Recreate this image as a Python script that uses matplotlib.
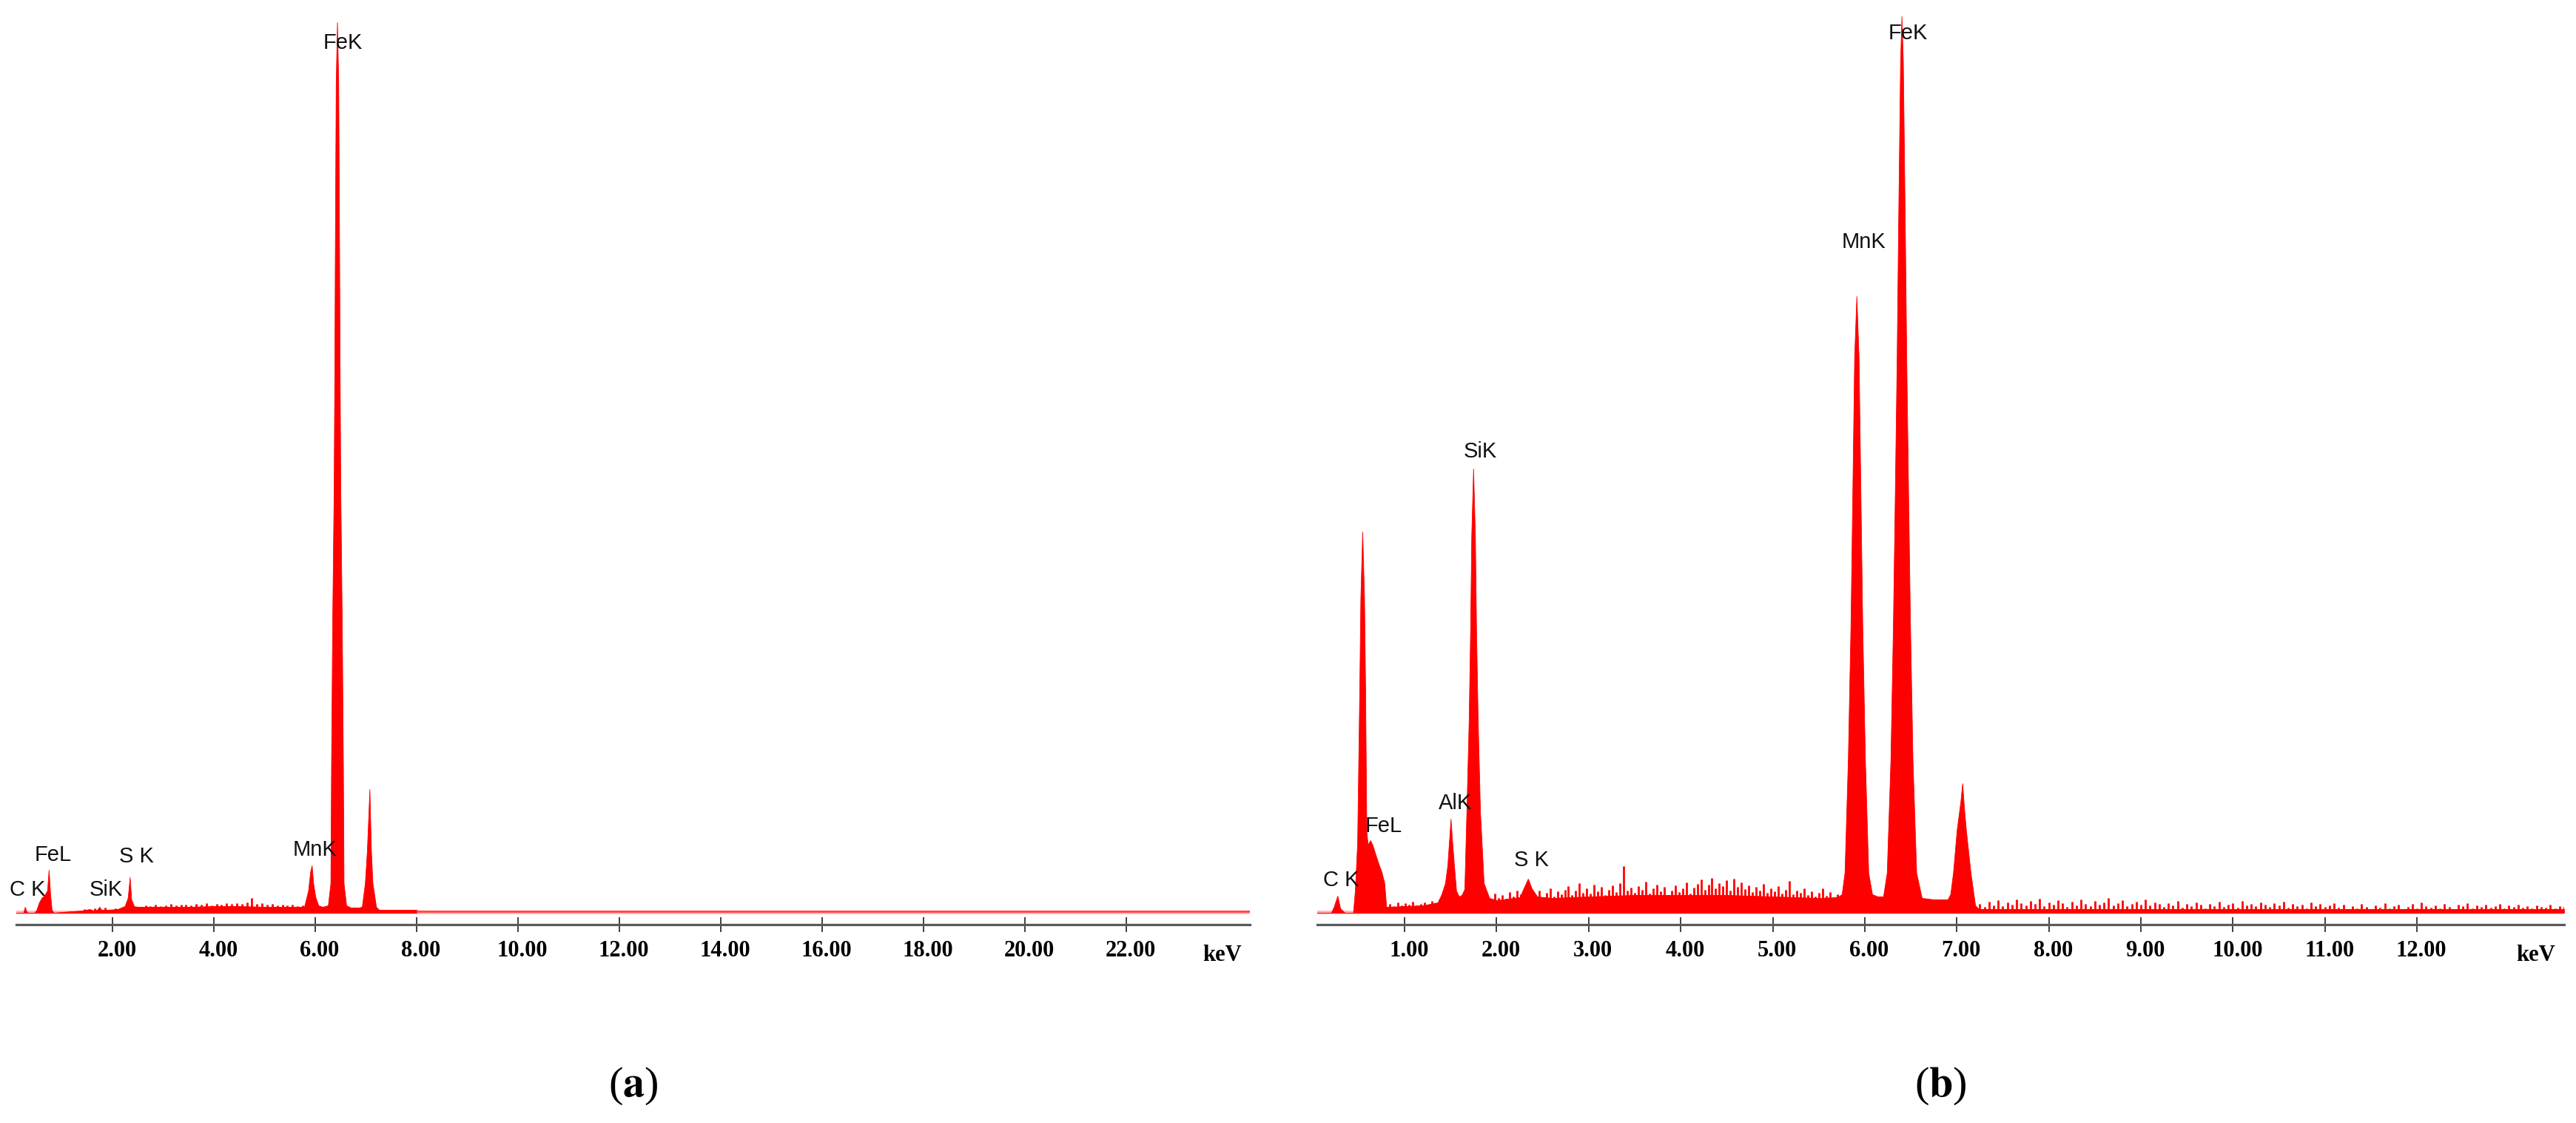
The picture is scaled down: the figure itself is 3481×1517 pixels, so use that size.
import numpy as np
import matplotlib
matplotlib.use('Agg')
import matplotlib.pyplot as plt
from matplotlib.transforms import ScaledTranslation

# ---- spectrum (a): outline points (keV, counts)
outline_a = [
    (0.10, 0), (0.24, 0), (0.27, 8), (0.30, 2), (0.33, 0), (0.46, 0), (0.50, 4),
    (0.55, 14), (0.60, 20), (0.66, 24), (0.71, 30), (0.74, 58), (0.77, 25),
    (0.80, 4), (0.84, 0), (1.00, 1), (1.20, 2), (1.40, 3), (1.55, 5), (1.62, 3),
    (1.70, 4), (1.74, 8), (1.78, 4), (1.90, 4), (2.10, 5), (2.24, 9), (2.30, 20),
    (2.34, 48), (2.37, 18), (2.43, 8), (2.60, 8), (3.00, 8), (3.50, 8), (4.00, 9),
    (4.50, 9), (5.00, 8), (5.50, 8), (5.78, 8), (5.86, 30), (5.90, 55), (5.93, 64),
    (5.96, 40), (6.00, 22), (6.06, 10), (6.14, 8), (6.25, 10), (6.30, 40),
    (6.313, 200), (6.335, 390), (6.364, 570), (6.379, 750), (6.386, 870),
    (6.405, 1120), (6.43, 1203), (6.455, 1120), (6.474, 870), (6.481, 750),
    (6.496, 570), (6.525, 390), (6.547, 200), (6.56, 40), (6.61, 10), (6.70, 7),
    (6.85, 7), (6.92, 8), (6.98, 40), (7.02, 84), (7.07, 167), (7.10, 84),
    (7.13, 40), (7.20, 8), (7.26, 4), (8.00, 4),
]
# faint flat tail of (a) above 8 keV
tail_a = [(8.00, 3), (24.44, 3)]
# background grass in (a), 1.45 - 5.75 keV
grass_a = [5, 4, 6, 5, 7, 4, 6, 5, 8, 6,
           9, 8, 10, 9, 11, 9, 10, 12, 10, 11,
           11, 10, 12, 11, 13, 10, 12, 11, 13, 12,
           13, 12, 14, 20, 12, 13, 11, 12, 10, 11,
           10, 11, 9, 10]
grass_a_range = (1.45, 5.75)

# ---- spectrum (b)
outline_b = [
    (0.05, 0), (0.20, 0), (0.23, 8), (0.27, 23), (0.30, 6), (0.35, 0), (0.44, 0),
    (0.46, 30), (0.485, 94), (0.508, 300), (0.52, 425), (0.54, 515), (0.56, 425),
    (0.572, 300), (0.585, 110), (0.60, 92), (0.625, 98), (0.65, 92), (0.68, 80),
    (0.72, 65), (0.75, 55), (0.78, 40), (0.80, 8), (0.83, 8), (1.00, 9),
    (1.20, 10), (1.36, 14), (1.40, 25), (1.44, 40), (1.465, 64), (1.485, 100),
    (1.50, 127), (1.515, 100), (1.537, 64), (1.56, 30), (1.59, 22), (1.62, 24),
    (1.65, 32), (1.672, 136), (1.697, 260), (1.713, 384), (1.725, 509),
    (1.745, 600), (1.765, 509), (1.777, 384), (1.795, 260), (1.82, 136),
    (1.86, 40), (1.92, 20), (2.00, 17), (2.25, 21), (2.30, 35), (2.34, 46),
    (2.38, 33), (2.44, 22), (2.60, 20), (3.00, 22), (3.50, 24), (4.00, 24),
    (4.50, 24), (5.00, 22), (5.50, 20), (5.70, 21), (5.75, 25), (5.781, 54),
    (5.817, 206), (5.846, 388), (5.866, 569), (5.886, 751), (5.91, 833),
    (5.934, 751), (5.954, 569), (5.974, 388), (6.003, 206), (6.039, 54),
    (6.08, 25), (6.14, 22), (6.20, 22), (6.24, 54), (6.28, 206), (6.307, 388),
    (6.328, 569), (6.348, 751), (6.364, 933), (6.385, 1150), (6.40, 1211),
    (6.415, 1150), (6.436, 933), (6.452, 751), (6.472, 569), (6.493, 388),
    (6.52, 206), (6.56, 54), (6.62, 20), (6.75, 18), (6.90, 18), (6.93, 25),
    (6.96, 54), (7.00, 112), (7.04, 150), (7.06, 175), (7.08, 140), (7.10, 112),
    (7.15, 54), (7.20, 10), (7.24, 5), (8.00, 5), (13.60, 5),
]
grass_b0 = [12, 9, 14, 10, 13, 11, 15, 10, 12, 14, 11, 16, 13, 18]
grass_b0_range = (0.84, 1.38)
grass_b1 = [22, 18, 26, 20, 24, 19, 28, 22, 30, 25,
            34, 40, 28, 24, 30, 21, 27, 33, 22, 29,
            25, 31, 36, 24, 30, 40, 27, 33, 26, 38,
            29, 35, 24, 31, 37, 28, 40, 63, 30, 34,
            27, 36, 31, 42, 26, 33, 38, 29, 35, 24,
            30, 37, 28, 33, 41, 26, 34, 39, 45, 31,
            38, 47, 33, 40, 36, 44, 30, 46, 35, 41,
            32, 37, 28, 35, 30, 39, 27, 33, 29, 36,
            26, 31, 43, 25, 30, 27, 33, 24, 29, 22,
            27, 33, 23, 28, 21, 25]
grass_b1_range = (1.90, 5.70)
grass_b2 = [12, 8, 15, 10, 17, 9, 14, 11, 18, 13,
            10, 16, 12, 19, 9, 14, 11, 17, 13, 8,
            15, 10, 18, 12, 9, 16, 11, 14, 20, 10,
            13, 17, 9, 12, 15, 11, 18, 10, 14, 12,
            8, 13, 10, 16, 7, 12, 9, 14, 11, 6,
            12, 9, 15, 8, 11, 13, 7, 16, 10, 12,
            9, 14, 11, 8, 13, 10, 15, 7, 12, 9,
            11, 6, 14, 9, 12, 8, 10, 13, 7, 11,
            5, 9, 6, 12, 8, 5, 10, 7, 13, 6,
            9, 11, 5, 8, 12, 6, 14, 9, 7, 10,
            6, 12, 8, 5, 11, 9, 13, 6, 10, 8,
            11, 7, 9, 12, 6, 10, 8, 11, 7, 9,
            6, 10, 8, 7, 11, 6, 9, 8]
grass_b2_range = (7.25, 13.60)

# peak labels
names_a = ['C K', 'FeL', 'SiK', 'S K', 'MnK', 'FeK']
label_x_a = [0.32, 0.83, 1.87, 2.47, 5.99, 6.54]
label_y_a = [31, 78, 31, 76, 85, 1175]
names_b = ['C K', 'FeL', 'AlK', 'SiK', 'S K', 'MnK', 'FeK']
label_x_b = [0.31, 0.77, 1.55, 1.82, 2.38, 5.99, 6.47]
label_y_b = [44, 117, 148, 623, 71, 906, 1188]

ticks_a = [2, 4, 6, 8, 10, 12, 14, 16, 18, 20, 22]
ticks_b = [1, 2, 3, 4, 5, 6, 7, 8, 9, 10, 11, 12]

W, H = 3481, 1517
plt.rcParams['mathtext.fontset'] = 'stix'
fig = plt.figure(figsize=(W / 100, H / 100), dpi=100)

RED = '#ff0000'
label_font = ['Liberation Sans Narrow', 'Liberation Sans']


def draw_panel(left, right, xlim, outline, tail, grass, ticks, kev_x, names, lx, ly, tag):
    top_px, axis_px = 20, 1249
    ax = fig.add_axes([left / W, 1 - axis_px / H, (right - left) / W, (axis_px - top_px) / H])
    ax.set_xlim(*xlim)
    ax.set_ylim(-16, 1213)
    for s in ['top', 'left', 'right']:
        ax.spines[s].set_visible(False)
    ax.spines['bottom'].set_color('#5a5a5a')
    ax.spines['bottom'].set_linewidth(2.3)
    ax.set_yticks([])

    # faint halo along the baseline
    ax.plot(xlim, [1.5, 1.5], color='#ffb8b8', lw=3.5, zorder=1)

    e = [p[0] for p in outline]
    c = [p[1] for p in outline]
    ax.fill_between(e, c, 0, color=RED, lw=0.6, edgecolor=RED, zorder=2)
    if tail:
        ax.fill_between([p[0] for p in tail], [p[1] for p in tail], 0,
                        color='#ff4a4a', lw=0, zorder=2)
    for vals, (g0, g1) in grass:
        ge = np.linspace(g0, g1, len(vals))
        ax.vlines(ge, 0, vals, color=RED, lw=2.0, zorder=2)

    ax.set_xticks(ticks)
    ax.set_xticklabels(['%.2f' % t for t in ticks])
    ax.tick_params(axis='x', direction='inout', length=14, width=1.4, color='#404040',
                   pad=8, labelsize=22)
    shift = ScaledTranslation(6 / 100, 0, fig.dpi_scale_trans)
    for lab in ax.get_xticklabels():
        lab.set_fontfamily('Liberation Serif')
        lab.set_fontweight('bold')
        lab.set_transform(lab.get_transform() + shift)

    ax.annotate('keV', xy=(kev_x, 0), xycoords=('data', 'axes fraction'),
                xytext=(0, -35), textcoords='offset points', ha='center', va='baseline',
                fontsize=22, fontweight='bold', family='Liberation Serif')

    for n, x, y in zip(names, lx, ly):
        ax.text(x, y, n, ha='center', va='center', fontsize=21, family=label_font,
                color='#111111', zorder=3)

    cx = (left + right) / 2 / W
    fig.text(cx, (H - 1467) / H, '(' + r'$\mathbf{' + tag + '}$' + ')', ha='center',
             va='center', fontsize=42, family='Liberation Serif')
    return ax


draw_panel(22, 1689, (0.10, 24.44), outline_a, tail_a, [(grass_a, grass_a_range)],
           ticks_a, 23.9, names_a, label_x_a, label_y_a, 'a')
draw_panel(1780, 3465, (0.05, 13.60), outline_b, None,
           [(grass_b0, grass_b0_range), (grass_b1, grass_b1_range), (grass_b2, grass_b2_range)],
           ticks_b, 13.29, names_b, label_x_b, label_y_b, 'b')

fig.savefig('out.png', dpi=100)
